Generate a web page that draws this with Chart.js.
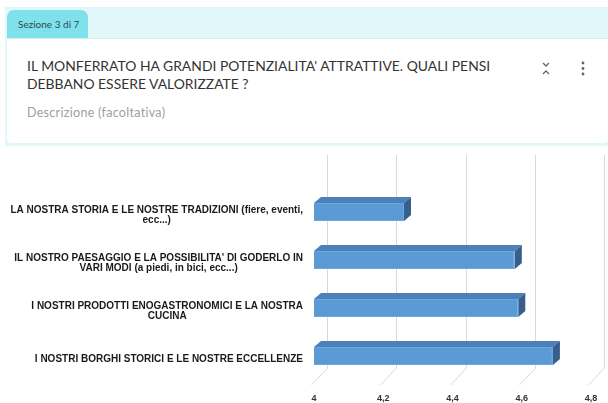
<!DOCTYPE html>
<html>
<head>
<meta charset="utf-8">
<script src="https://cdn.jsdelivr.net/npm/chart.js@4"></script>
<style>
  html, body { margin: 0; padding: 0; background: #fff; width: 608px; height: 403px; overflow: hidden; }
  #band { position: absolute; left: 5px; top: 7px; width: 603px; height: 139px; background: #e2f7fa; }
  #tab { position: absolute; left: 7px; top: 10px; width: 81px; height: 28px; background: #7fe1ec;
         border-radius: 7px 7px 0 0; font: 10px Lato, sans-serif; color: #2e4a4d; line-height: 28px; padding-left: 11px; box-sizing: border-box; }
  #card { position: absolute; left: 7px; top: 38px; width: 601px; height: 104px; background: #fff;
          border-top: 1px solid #d6eef2; border-radius: 0 0 4px 4px; }
  #title { position: absolute; left: 20px; top: 18px; width: 500px; font: 13.9px Lato, sans-serif; color: #333; line-height: 18px; }
  #descr { position: absolute; left: 20px; top: 66px; font: 12.5px Lato, sans-serif; letter-spacing: 0.3px; color: #a0a0a0; }
  #icons { position: absolute; left: 535px; top: 22px; }
  #wrap { position: absolute; left: 0; top: 148px; width: 608px; height: 255px; }
</style>
</head>
<body>
<div id="band"></div>
<div id="tab">Sezione 3 di 7</div>
<div id="card">
  <div id="title">IL MONFERRATO HA GRANDI POTENZIALITA' ATTRATTIVE. QUALI PENSI<br>DEBBANO ESSERE VALORIZZATE ?</div>
  <div id="descr">Descrizione (facoltativa)</div>
  <svg id="icons" width="60" height="20">
    <polyline points="1,2 4,5 7,2" fill="none" stroke="#666" stroke-width="1.3"/>
    <polyline points="1,13 4,10 7,13" fill="none" stroke="#666" stroke-width="1.3"/>
    <circle cx="41" cy="2" r="1.4" fill="#666"/>
    <circle cx="41" cy="7.5" r="1.4" fill="#666"/>
    <circle cx="41" cy="13" r="1.4" fill="#666"/>
  </svg>
</div>
<div id="wrap"><canvas id="grafico"></canvas></div>
<script>
const categorie = [
  ['LA NOSTRA STORIA E LE NOSTRE TRADIZIONI (fiere, eventi,', 'ecc...)'],
  ["IL NOSTRO PAESAGGIO E LA POSSIBILITA' DI GODERLO IN", 'VARI MODI (a piedi, in bici, ecc...)'],
  ['I NOSTRI PRODOTTI ENOGASTRONOMICI E LA NOSTRA', 'CUCINA'],
  ['I NOSTRI BORGHI STORICI E LE NOSTRE ECCELLENZE']
];
const medie = [4.26, 4.58, 4.59, 4.69];
const tickValori = [4, 4.2, 4.4, 4.6, 4.8];
const tickEtichette = ['4', '4,2', '4,4', '4,6', '4,8'];

const FONT_LAB = 'bold 10px "Liberation Sans", Arial, sans-serif';
const DX = 7, DY = 6;      // profondita' 3D delle barre
const GX = 13, GY = 12;    // spostamento della parete di fondo

// griglia sul fondo + linee del pavimento
const griglia3d = {
  id: 'griglia3d',
  beforeDatasetsDraw(chart) {
    const { ctx, chartArea, scales: { x } } = chart;
    ctx.save();
    ctx.strokeStyle = '#d9d9d9';
    ctx.lineWidth = 1;
    tickValori.forEach(v => {
      const px = Math.round(x.getPixelForValue(v)) + 0.5;
      ctx.beginPath();
      ctx.moveTo(px + GX, chartArea.top - 33);
      ctx.lineTo(px + GX, chartArea.bottom - GY);
      ctx.lineTo(px - 3, chartArea.bottom + 5);
      ctx.stroke();
    });
    ctx.restore();
  }
};

// facce superiore e laterale delle barre
const barre3d = {
  id: 'barre3d',
  afterDatasetsDraw(chart) {
    const { ctx, chartArea } = chart;
    ctx.save();
    chart.getDatasetMeta(0).data.forEach(b => {
      const top = b.y - b.height / 2, bot = b.y + b.height / 2;
      const x0 = Math.max(b.base, chartArea.left);
      ctx.fillStyle = '#4d7fb8';
      ctx.beginPath();
      ctx.moveTo(x0, top);
      ctx.lineTo(x0 + DX, top - DY);
      ctx.lineTo(b.x + DX, top - DY);
      ctx.lineTo(b.x, top);
      ctx.closePath();
      ctx.fill();
      ctx.fillStyle = '#375f8c';
      ctx.beginPath();
      ctx.moveTo(b.x, top);
      ctx.lineTo(b.x + DX, top - DY);
      ctx.lineTo(b.x + DX, bot - DY);
      ctx.lineTo(b.x, bot);
      ctx.closePath();
      ctx.fill();
    });
    ctx.restore();
  }
};

// etichette categorie: blocco allineato a destra, righe centrate nel blocco
const etichette = {
  id: 'etichette',
  afterDraw(chart) {
    const { ctx, scales: { y } } = chart;
    ctx.save();
    ctx.font = FONT_LAB;
    ctx.fillStyle = '#1a1a1a';
    ctx.textAlign = 'center';
    ctx.textBaseline = 'middle';
    const destra = y.right - 11, lh = 10.5;
    categorie.forEach((righe, i) => {
      const w = Math.max(...righe.map(r => ctx.measureText(r).width));
      const cx = destra - w / 2;
      const cy = y.getPixelForTick(i) + 3;
      righe.forEach((r, k) => ctx.fillText(r, cx, cy + (k - (righe.length - 1) / 2) * lh));
    });
    ctx.restore();
  }
};

new Chart(document.getElementById('grafico'), {
  type: 'bar',
  data: {
    labels: categorie,
    datasets: [{
      data: medie,
      backgroundColor: '#5b9bd5',
      borderColor: '#6aa6dc',
      borderWidth: 1,
      barPercentage: 0.37,
      categoryPercentage: 1
    }]
  },
  options: {
    indexAxis: 'y',
    responsive: true,
    maintainAspectRatio: false,
    animation: false,
    layout: { padding: { top: 40, right: 17, left: 0, bottom: 0 } },
    plugins: { legend: { display: false }, tooltip: { enabled: false } },
    scales: {
      x: {
        min: 4, max: 4.8,
        grid: { display: false },
        border: { display: false },
        afterBuildTicks: s => { s.ticks = tickValori.map(v => ({ value: v })); },
        afterFit: s => { s.height = 23; },
        ticks: {
          padding: 5,
          color: '#333',
          font: { family: '"Liberation Sans", Arial, sans-serif', size: 9, weight: 'bold' },
          callback: (v, i) => tickEtichette[i]
        }
      },
      y: {
        grid: { display: false },
        border: { display: false },
        afterFit: s => { s.width = 314; },
        ticks: { display: false }
      }
    }
  },
  plugins: [griglia3d, barre3d, etichette]
});
</script>
</body>
</html>
